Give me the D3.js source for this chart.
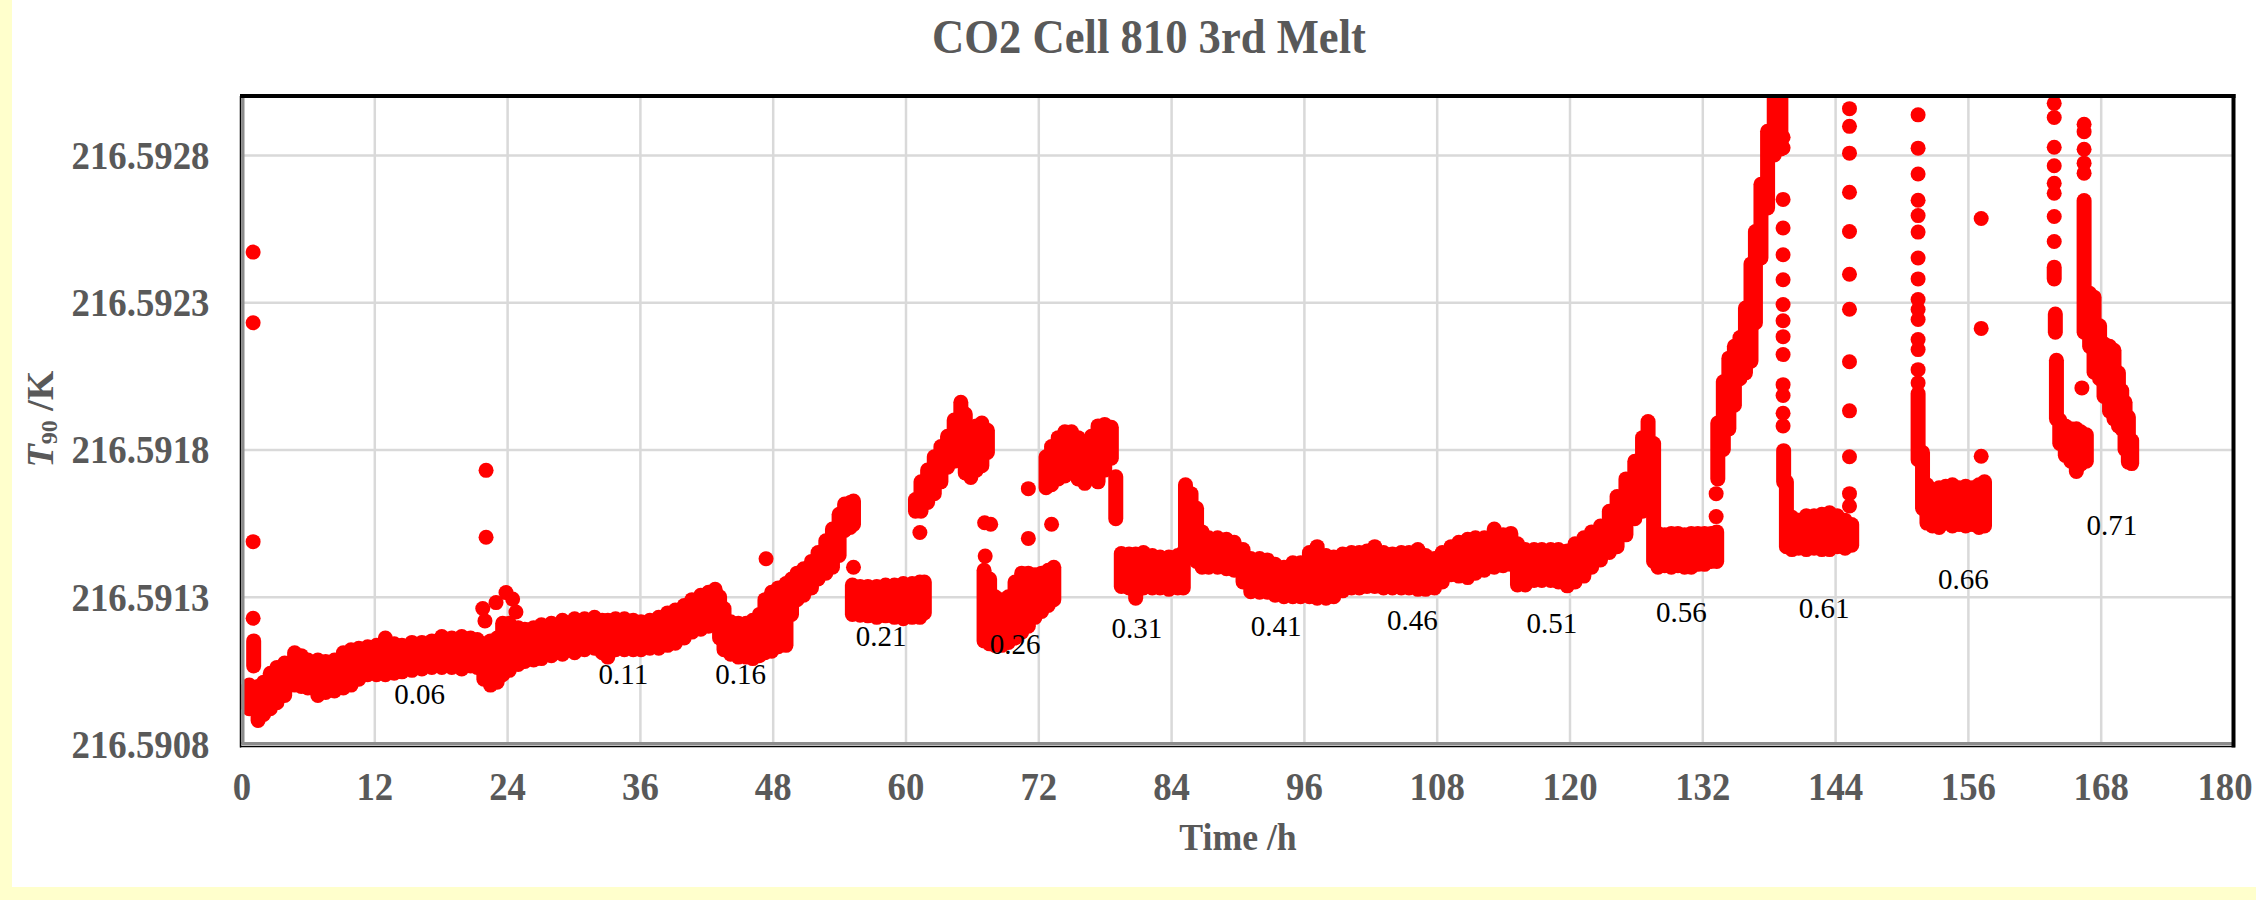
<!DOCTYPE html>
<html><head><meta charset="utf-8">
<script src="https://cdn.jsdelivr.net/npm/d3@7"></script>
<style>html,body{margin:0;padding:0;background:#fff;}svg{display:block}</style>
</head><body>
<svg id="chart" width="2256" height="900"></svg>
<script>
const chartTitle = "CO2 Cell 810 3rd Melt";
const xAxisTitle = "Time /h";
const xTicks = [0,12,24,36,48,60,72,84,96,108,120,132,144,156,168,180];
const xTickLabels = ["0","12","24","36","48","60","72","84","96","108","120","132","144","156","168","180"];
const yTicks = [216.5908,216.5913,216.5918,216.5923,216.5928];
const yTickLabels = ["216.5908","216.5913","216.5918","216.5923","216.5928"];

// dense bands of readings: time (h), lowest and highest T90 (K) at that time
const bandTime = [
 1.1,
 0.7,1.5,2.0,2.6,3.2,3.9,4.8,5.4,6.0,6.9,7.6,8.4,9.2,9.9,10.6,11.4,12.2,13.0,13.8,14.5,15.4,16.3,17.2,18.1,19.0,19.9,20.7,21.3,21.9,22.5,23.1,23.6,24.2,25.0,25.6,26.4,27.1,28.0,29.0,30.1,31.0,31.9,32.6,33.1,33.8,34.6,35.4,36.1,36.9,37.7,38.5,39.2,40.0,40.7,41.5,42.2,42.8,43.2,
 43.6,44.2,44.9,45.6,46.2,46.8,47.3,47.9,48.5,49.2,49.7,50.2,50.8,51.5,52.1,52.8,53.4,54.0,54.5,55.0,55.3,
 55.2,55.9,56.6,57.4,58.2,59.0,59.8,60.6,61.3,61.7,
 60.9,61.4,62.0,62.6,63.2,63.8,64.4,65.0,65.4,65.9,66.4,66.9,67.4,
 67.1,67.6,68.1,68.7,69.3,69.9,70.5,71.1,71.7,72.3,72.9,73.4,
 72.7,73.2,73.8,74.4,75.0,75.6,76.2,76.8,77.4,78.0,78.6,79.0,
 79.5,80.2,80.8,81.5,82.3,83.0,83.8,84.6,85.1,
 85.3,85.8,86.3,86.8,87.4,88.2,89.0,89.7,90.5,91.2,92.0,92.7,93.4,94.2,95.0,95.7,96.5,97.2,98.0,98.7,99.5,100.3,101.0,101.7,102.4,103.2,104.0,104.8,105.5,106.3,107.0,107.8,108.5,109.3,110.0,110.8,111.5,112.3,113.2,114.0,114.7,115.3,116.0,116.8,117.5,118.3,119.0,119.8,120.5,121.3,122.0,122.8,123.6,124.3,125.1,125.9,126.6,127.1,127.6,
 128.0,128.6,129.2,129.8,130.4,131.0,131.6,132.2,132.8,133.3,
 133.4,133.9,134.4,134.9,135.4,135.9,136.4,136.8,137.3,137.9,138.5,139.1,139.35,
 139.6,140.1,140.7,141.4,142.1,142.8,143.5,144.2,144.9,145.5,
 151.5,151.9,152.3,152.8,153.4,154.0,154.6,155.2,155.8,156.4,157.0,157.5,
 163.8,163.9,164.0,164.3,164.8,165.3,165.8,166.2,166.7,
 166.5,167.0,167.4,167.9,168.3,168.8,169.2,169.6,169.9,170.2,170.5,170.8
];
const bandLow = [
 216.591065,
 216.590920,216.590880,216.590900,216.590920,216.590940,216.590965,216.591000,216.590995,216.590990,216.590965,216.590975,216.590980,216.590990,216.591000,216.591020,216.591035,216.591035,216.591035,216.591040,216.591045,216.591050,216.591055,216.591060,216.591060,216.591060,216.591055,216.591065,216.591060,216.591020,216.591000,216.591010,216.591035,216.591050,216.591070,216.591080,216.591085,216.591090,216.591100,216.591105,216.591110,216.591120,216.591125,216.591110,216.591095,216.591120,216.591120,216.591120,216.591120,216.591125,216.591125,216.591135,216.591142,216.591160,216.591180,216.591190,216.591200,216.591205,216.591160,
 216.591120,216.591105,216.591095,216.591095,216.591090,216.591100,216.591110,216.591115,216.591130,216.591135,216.591240,216.591290,216.591305,216.591330,216.591360,216.591380,216.591400,216.591440,216.591525,216.591535,216.591545,
 216.591240,216.591237,216.591235,216.591230,216.591235,216.591230,216.591225,216.591230,216.591230,216.591245,
 216.591590,216.591590,216.591620,216.591650,216.591690,216.591740,216.591760,216.591760,216.591720,216.591705,216.591730,216.591745,216.591790,
 216.591150,216.591140,216.591135,216.591135,216.591145,216.591160,216.591180,216.591200,216.591230,216.591250,216.591270,216.591290,
 216.591670,216.591680,216.591700,216.591710,216.591720,216.591700,216.591685,216.591720,216.591690,216.591730,216.591770,216.591565,
 216.591335,216.591330,216.591295,216.591330,216.591330,216.591330,216.591325,216.591330,216.591330,
 216.591460,216.591440,216.591420,216.591400,216.591400,216.591400,216.591395,216.591390,216.591350,216.591317,216.591315,216.591315,216.591305,216.591300,216.591300,216.591300,216.591300,216.591295,216.591295,216.591300,216.591320,216.591330,216.591330,216.591335,216.591335,216.591330,216.591330,216.591330,216.591330,216.591325,216.591325,216.591330,216.591350,216.591375,216.591370,216.591365,216.591380,216.591390,216.591400,216.591405,216.591410,216.591340,216.591340,216.591355,216.591355,216.591355,216.591350,216.591337,216.591350,216.591370,216.591400,216.591425,216.591450,216.591470,216.591510,216.591565,216.591590,216.591600,216.591420,
 216.591400,216.591405,216.591400,216.591405,216.591400,216.591400,216.591410,216.591410,216.591420,216.591420,
 216.591700,216.591800,216.591870,216.591950,216.592040,216.592060,216.592100,216.592230,216.592450,216.592620,216.592800,216.592820,216.591690,
 216.591470,216.591460,216.591465,216.591460,216.591465,216.591460,216.591460,216.591470,216.591465,216.591475,
 216.591765,216.591600,216.591550,216.591540,216.591535,216.591550,216.591540,216.591545,216.591540,216.591545,216.591535,216.591540,
 216.592379,216.592198,216.591904,216.591820,216.591780,216.591760,216.591725,216.591750,216.591760,
 216.592198,216.592150,216.592062,216.592040,216.591980,216.591930,216.591904,216.591880,216.591870,216.591800,216.591757,216.591752
];
const bandHigh = [
 216.591150,
 216.591000,216.590995,216.591010,216.591040,216.591060,216.591075,216.591110,216.591100,216.591085,216.591085,216.591080,216.591085,216.591110,216.591120,216.591125,216.591130,216.591135,216.591160,216.591140,216.591135,216.591145,216.591145,216.591150,216.591165,216.591160,216.591165,216.591160,216.591155,216.591140,216.591150,216.591160,216.591210,216.591210,216.591195,216.591190,216.591195,216.591205,216.591210,216.591220,216.591225,216.591225,216.591230,216.591220,216.591220,216.591225,216.591225,216.591220,216.591215,216.591220,216.591230,216.591245,216.591255,216.591270,216.591290,216.591305,216.591315,216.591325,216.591300,
 216.591260,216.591215,216.591210,216.591210,216.591220,216.591240,216.591290,216.591315,216.591330,216.591345,216.591360,216.591380,216.591395,216.591420,216.591450,216.591490,216.591530,216.591580,216.591615,216.591620,216.591625,
 216.591340,216.591335,216.591335,216.591335,216.591340,216.591340,216.591345,216.591345,216.591350,216.591350,
 216.591630,216.591690,216.591730,216.591775,216.591810,216.591845,216.591900,216.591960,216.591920,216.591830,216.591880,216.591890,216.591865,
 216.591390,216.591360,216.591300,216.591290,216.591300,216.591350,216.591380,216.591380,216.591375,216.591380,216.591390,216.591400,
 216.591775,216.591810,216.591840,216.591860,216.591860,216.591840,216.591825,216.591845,216.591880,216.591885,216.591875,216.591707,
 216.591447,216.591445,216.591445,216.591450,216.591440,216.591435,216.591435,216.591440,216.591450,
 216.591680,216.591650,216.591600,216.591520,216.591500,216.591500,216.591495,216.591485,216.591460,216.591430,216.591430,216.591425,216.591410,216.591400,216.591415,216.591415,216.591450,216.591470,216.591440,216.591435,216.591445,216.591450,216.591450,216.591455,216.591470,216.591450,216.591445,216.591450,216.591450,216.591460,216.591440,216.591430,216.591450,216.591470,216.591485,216.591495,216.591500,216.591500,216.591530,216.591510,216.591515,216.591480,216.591460,216.591460,216.591460,216.591460,216.591460,216.591455,216.591480,216.591500,216.591520,216.591540,216.591590,216.591640,216.591700,216.591760,216.591840,216.591895,216.591820,
 216.591515,216.591510,216.591515,216.591515,216.591510,216.591515,216.591515,216.591515,216.591515,216.591520,
 216.591890,216.592030,216.592110,216.592150,216.592180,216.592280,216.592430,216.592540,216.592700,216.592880,216.592995,216.592995,216.591796,
 216.591690,216.591570,216.591560,216.591575,216.591575,216.591580,216.591585,216.591575,216.591560,216.591545,
 216.591990,216.591790,216.591680,216.591650,216.591670,216.591675,216.591680,216.591670,216.591675,216.591670,216.591680,216.591690,
 216.592419,216.592260,216.592103,216.591900,216.591880,216.591870,216.591870,216.591860,216.591850,
 216.592645,216.592330,216.592317,216.592220,216.592159,216.592150,216.592137,216.592060,216.592000,216.591960,216.591910,216.591830
];

// isolated readings
const dotTime = [
 1.05,1.05,1.05,1.05,
 22.1,22.1,21.8,22.0,23.0,23.9,24.5,24.8,
 47.4,55.3,61.3,67.15,67.7,67.2,71.1,71.1,73.2,
 133.25,133.25,
 139.3,139.3,139.3,139.3,139.3,139.3,139.3,139.3,139.3,139.3,139.3,139.3,139.3,139.3,
 145.3,145.3,145.3,145.3,145.3,145.3,145.3,145.3,145.3,145.3,145.3,145.3,
 151.5,151.5,151.5,151.5,151.5,151.5,151.5,151.5,151.5,151.5,151.5,151.5,151.5,151.5,151.5,
 157.2,157.2,157.2,
 163.8,163.8,163.8,163.8,163.8,163.8,163.8,163.8,
 166.3,
 166.5,166.5,166.5,166.5,166.5
];
const dotTemp = [
 216.592470,216.592230,216.591487,216.591227,
 216.591729,216.591502,216.591260,216.591218,216.591280,216.591314,216.591292,216.591248,
 216.591429,216.591400,216.591518,216.591551,216.591546,216.591438,216.591667,216.591498,216.591546,
 216.591572,216.591650,
 216.592860,216.592824,216.592649,216.592552,216.592461,216.592376,216.592292,216.592237,216.592183,216.592122,216.592020,216.591983,216.591923,216.591880,
 216.592957,216.592897,216.592806,216.592673,216.592540,216.592395,216.592276,216.592098,216.591931,216.591775,216.591650,216.591608,
 216.592936,216.592823,216.592735,216.592646,216.592594,216.592538,216.592450,216.592379,216.592309,216.592275,216.592241,216.592173,216.592139,216.592071,216.592026,
 216.592584,216.592211,216.591777,
 216.592975,216.592927,216.592826,216.592763,216.592704,216.592670,216.592591,216.592506,
 216.592009,
 216.592904,216.592879,216.592819,216.592772,216.592738
];

// step annotations
const labelText = ["0.06","0.11","0.16","0.21","0.26","0.31","0.41","0.46","0.51","0.56","0.61","0.66","0.71"];
const labelTime = [16.1,34.5,45.1,57.8,69.9,80.9,93.5,105.8,118.4,130.1,143.0,155.6,169.0];
const labelTemp = [216.590936,216.591003,216.591003,216.591132,216.591105,216.591159,216.591166,216.591186,216.591176,216.591214,216.591227,216.591325,216.591508];

const W = 2256, H = 900;
const SERIF = "'Liberation Serif','Times New Roman',Times,serif";
const GREY = "#595959";
const svg = d3.select("#chart");
svg.append("rect").attr("width", W).attr("height", H).attr("fill", "#FFFFCC");
svg.append("rect").attr("x", 12).attr("y", 0).attr("width", W - 12).attr("height", 887).attr("fill", "#fff");

const pL = 241.5, pR = 2233.5, pT = 96, pB = 744;
const x = d3.scaleLinear().domain([0, 180]).range([pL, pR]);
const y = d3.scaleLinear().domain([216.5908, 216.5930]).range([pB, pT]);

// gridlines
svg.append("g").attr("transform", `translate(0,${pB})`)
  .call(d3.axisBottom(x).tickValues(xTicks.slice(1, -1)).tickSize(-(pB - pT)).tickFormat(""))
  .call(g => g.select(".domain").remove())
  .selectAll("line").attr("stroke", "#D9D9D9").attr("stroke-width", 2.5);
svg.append("g").attr("transform", `translate(${pL},0)`)
  .call(d3.axisLeft(y).tickValues(yTicks.slice(1)).tickSize(-(pR - pL)).tickFormat(""))
  .call(g => g.select(".domain").remove())
  .selectAll("line").attr("stroke", "#D9D9D9").attr("stroke-width", 2.5);

// data
svg.append("clipPath").attr("id", "plotclip").append("rect")
  .attr("x", pL - 1).attr("y", pT).attr("width", pR - pL + 2).attr("height", pB - pT + 2);
const plot = svg.append("g").attr("clip-path", "url(#plotclip)");
const bands = bandTime.map((t, i) => ({ t, lo: bandLow[i], hi: bandHigh[i] }));
plot.selectAll("line.band").data(bands).join("line").attr("class", "band")
  .attr("x1", d => x(d.t)).attr("x2", d => x(d.t))
  .attr("y1", d => y(d.lo)).attr("y2", d => y(d.hi))
  .attr("stroke", "#FF0000").attr("stroke-width", 15).attr("stroke-linecap", "round");
const dots = dotTime.map((t, i) => ({ t, v: dotTemp[i] }));
plot.selectAll("circle.dot").data(dots).join("circle").attr("class", "dot")
  .attr("cx", d => x(d.t)).attr("cy", d => y(d.v)).attr("r", 7.5).attr("fill", "#FF0000");

// frame
svg.append("line").attr("x1", pL).attr("x2", pR).attr("y1", pB - 0.5).attr("y2", pB - 0.5).attr("stroke", "#8c8c8c").attr("stroke-width", 3);
svg.append("line").attr("x1", pL - 1.5).attr("x2", pR + 1.5).attr("y1", pB + 2.5).attr("y2", pB + 2.5).attr("stroke", "#000").attr("stroke-width", 1.5);
svg.append("line").attr("x1", pL + 1.5).attr("x2", pL + 1.5).attr("y1", pT).attr("y2", pB).attr("stroke", "#8c8c8c").attr("stroke-width", 3);
svg.append("line").attr("x1", pL - 1).attr("x2", pL - 1).attr("y1", pT).attr("y2", pB + 3.5).attr("stroke", "#000").attr("stroke-width", 1.5);
svg.append("line").attr("x1", pL - 1.5).attr("x2", pR + 2).attr("y1", pT).attr("y2", pT).attr("stroke", "#000").attr("stroke-width", 4);
svg.append("line").attr("x1", pR).attr("x2", pR).attr("y1", pT - 2).attr("y2", pB + 3.5).attr("stroke", "#000").attr("stroke-width", 4);

// tick labels
const gx = svg.append("g").attr("transform", `translate(0,${pB})`)
  .call(d3.axisBottom(x).tickValues(xTicks).tickSize(0).tickFormat((d, i) => xTickLabels[i]));
gx.select(".domain").remove();
gx.selectAll("text").attr("y", 0).attr("dy", null)
  .attr("transform", (d, i) => i === xTicks.length - 1 ? "translate(-9,56) scale(0.92,1)" : "translate(0,56) scale(0.92,1)")
  .attr("font-family", SERIF).attr("font-size", 40).attr("font-weight", "bold").attr("fill", GREY);
const gy = svg.append("g").attr("transform", `translate(${pL},0)`)
  .call(d3.axisLeft(y).tickValues(yTicks).tickSize(0).tickFormat((d, i) => yTickLabels[i]));
gy.select(".domain").remove();
gy.selectAll("text").attr("x", 0).attr("dy", null)
  .attr("transform", "translate(-32,13.5) scale(0.92,1)")
  .attr("text-anchor", "end")
  .attr("font-family", SERIF).attr("font-size", 40).attr("font-weight", "bold").attr("fill", GREY);

// title
svg.append("text").attr("transform", "translate(1149,53) scale(0.93,1)")
  .attr("text-anchor", "middle").attr("font-family", SERIF).attr("font-size", 48)
  .attr("font-weight", "bold").attr("fill", GREY).text(chartTitle);
// axis titles
svg.append("text").attr("transform", "translate(1238,850) scale(0.94,1)")
  .attr("text-anchor", "middle").attr("font-family", SERIF).attr("font-size", 38)
  .attr("font-weight", "bold").attr("fill", GREY).text(xAxisTitle);
const yt = svg.append("text").attr("transform", "translate(53,419) rotate(-90)")
  .attr("text-anchor", "middle").attr("font-family", SERIF).attr("font-size", 38)
  .attr("font-weight", "bold").attr("fill", GREY);
yt.append("tspan").attr("font-style", "italic").text("T");
yt.append("tspan").attr("font-size", 24).attr("dy", 4).text("90");
yt.append("tspan").attr("dy", -4).text(" /K");

// annotations
svg.append("g").selectAll("text").data(labelText).join("text")
  .attr("x", (d, i) => x(labelTime[i])).attr("y", (d, i) => y(labelTemp[i]))
  .attr("text-anchor", "middle").attr("font-family", SERIF).attr("font-size", 29)
  .attr("fill", "#000").text(d => d);
</script>
</body></html>
